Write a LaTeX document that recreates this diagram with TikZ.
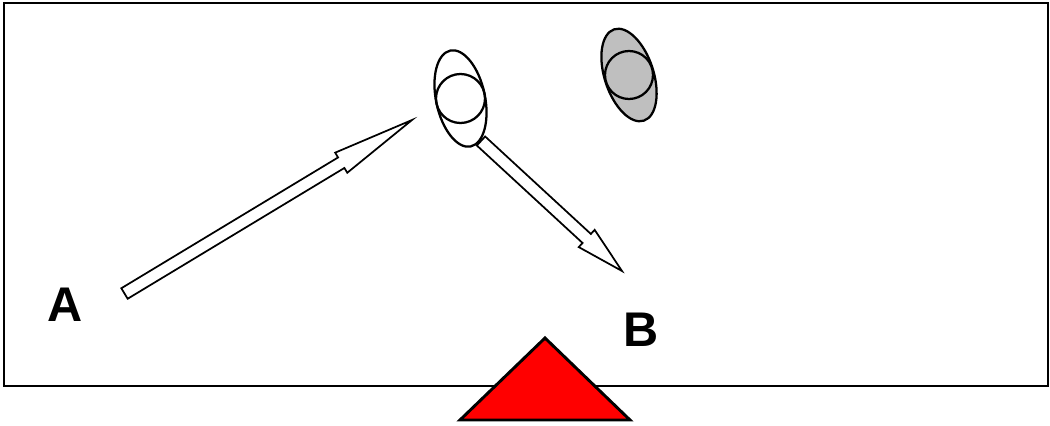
\documentclass[tikz,border=0pt]{standalone}
\usepackage{fontspec}
\setmainfont{Liberation Sans}
\usetikzlibrary{calc}

% block arrow from tail to tip, #3 = head length
\newcommand\blockarrow[3]{%
  \coordinate (hb) at ($(#2)!#3!(#1)$);
  \draw[blockarr] ($(#1)!4.6pt!90:(#2)$) -- ($(hb)!4.6pt!-90:(#1)$)
    -- ($(hb)!8.8pt!-90:(#1)$) -- (#2) -- ($(hb)!8.8pt!90:(#1)$)
    -- ($(hb)!4.6pt!90:(#1)$) -- ($(#1)!4.6pt!-90:(#2)$) -- cycle;}

\begin{document}
\begin{tikzpicture}[x=0.75pt, y=-0.75pt,
    blockarr/.style={draw=black, fill=white, line width=1.3pt, line join=miter},
    ball/.style={draw=black, line width=1.7pt},
    lbl/.style={inner sep=0pt, font=\fontsize{36.5}{40}\selectfont\bfseries}]
    \useasboundingbox (0,0) rectangle (1050,425);
    \draw[line width=1.5pt] (4,3) rectangle (1048,386);

    % balls
    \coordinate (white) at (460.5,98.5);
    \coordinate (grey) at (629,75);
    \draw[ball, fill=white, rotate around={12:(white)}] (white) ellipse (24.5 and 49);
    \draw[ball] (white) circle (24.5);
    \draw[ball, fill=black!25, rotate around={18:(grey)}] (grey) ellipse (24.5 and 48);
    \draw[ball] (grey) circle (24);

    % paths
    \coordinate (tailA) at (124.5,293.5);
    \coordinate (tipA) at (412,120);
    \coordinate (tailB) at (481,141);
    \coordinate (tipB) at (622,271);
    \blockarrow{tailA}{tipA}{62pt}
    \blockarrow{tailB}{tipB}{36pt}

    \node[lbl] (A) at (65,304.5) {A};
    \node[lbl] (B) at (641.5,329.5) {B};

    % pocket
    \draw[fill=red, line width=2.2pt, line join=miter] (545,338) -- (630,420) -- (460,420) -- cycle;
\end{tikzpicture}
\end{document}
